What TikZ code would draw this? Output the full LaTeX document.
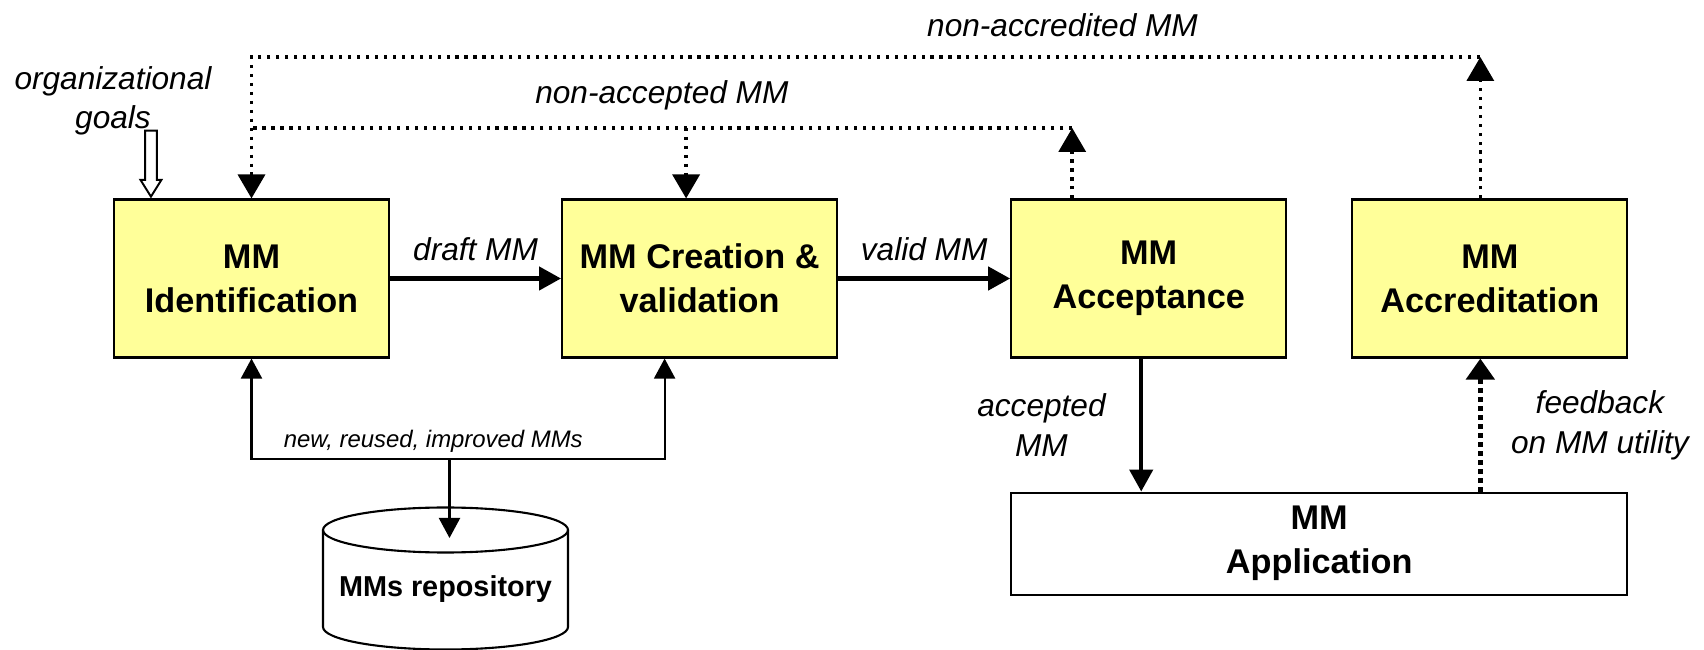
\documentclass[tikz,border=0pt]{standalone}
\usepackage{fontspec}
\setmainfont{Liberation Sans}
\usetikzlibrary{arrows.meta,positioning,calc,shapes.arrows}
\definecolor{BoxYellow}{RGB}{255,255,153}
\tikzset{
  mmbox/.style={draw=black,line width=1.2pt,fill=BoxYellow,
    minimum width=5.5cm,minimum height=3.16cm,align=center,
    font=\fontsize{19.5}{25}\selectfont\bfseries},
  appbox/.style={draw=black,line width=1.2pt,fill=white,
    minimum width=12.32cm,minimum height=2.04cm,align=center,
    font=\fontsize{19.5}{25}\selectfont\bfseries},
  repotext/.style={font=\fontsize{16.4}{20}\selectfont\bfseries},
  repoline/.style={draw=black,line width=1.2pt},
  mainarrow/.style={-{Triangle[length=4.4mm,width=4.6mm]},line width=2.5pt},
  thinarrow/.style={line width=1.2pt,-{Triangle[length=4mm,width=4.2mm]}},
  thinboth/.style={line width=1.2pt,
    {Triangle[length=4mm,width=4.2mm]}-{Triangle[length=4mm,width=4.2mm]}},
  dotline/.style={line width=2pt,dash pattern=on 1.8pt off 3.3pt},
  dotarrow/.style={dotline,-{Triangle[length=4.8mm,width=5.4mm]}},
  feedarrow/.style={line width=2.8pt,dash pattern=on 2.8pt off 2.3pt,
    -{Triangle[length=4.2mm,width=5.6mm]}},
  flowlabel/.style={font=\fontsize{18}{22.5}\selectfont\itshape,align=center},
  smalllabel/.style={font=\fontsize{13.6}{16}\selectfont\itshape},
  goalarrow/.style={draw,line width=1.1pt,fill=white,single arrow,
    shape border rotate=270,inner sep=2.8pt,single arrow head extend=2.6pt,
    single arrow tip angle=64,minimum height=1.32cm},
}
\begin{document}
\begin{tikzpicture}[node distance=3.44cm]
  \useasboundingbox (0,0) rectangle (34.08,-13);
  \node[mmbox] (ident) at (5.03,-5.57) {MM\\Identification};
  \node[mmbox,right=3.42cm of ident] (creat) {MM Creation \&\\validation};
  \node[mmbox,right=3.44cm of creat] (accept) {MM\\Acceptance};
  \node[mmbox,right=1.28cm of accept] (accred) {MM\\Accreditation};
  \node[appbox,below=2.66cm of accept.south west,anchor=north west] (appl)
    {MM\\Application};
  \node[repotext] (repo) at (8.91,-11.78) {MMs repository};
  \node[flowlabel] (goals) at (2.26,-2.02) {organizational\\goals};
  \node[goalarrow,anchor=tip] (goalarr) at ($(ident.north west)+(0.76,0)$) {};

  \draw[repoline] ($(repo.center)+(0,1.18)$) ellipse [x radius=2.45cm,y radius=0.45cm];
  \draw[repoline] ($(repo.center)+(-2.45,1.18)$) -- ++(0,-1.94)
    arc[start angle=180,end angle=360,x radius=2.45cm,y radius=0.45cm] -- ++(0,1.94);

  \coordinate (topline) at (0,-1.14);
  \coordinate (lowline) at (0,-2.56);
  \coordinate (bus) at (0,-9.18);
  \coordinate (accredup) at ($(accred.north)+(-0.19,0)$);
  \coordinate (acceptup) at ($(accept.north)+(-1.53,0)$);
  \coordinate (creatdown) at ($(creat.north)+(-0.27,0)$);
  \coordinate (acceptdown) at ($(accept.south)+(-0.15,0)$);
  \coordinate (creatup) at ($(creat.south)+(-0.7,0)$);
  \coordinate (repoin) at ($(repo.center)+(0.08,1.02)$);

  \draw[mainarrow] (ident.east) -- node[flowlabel,above=0.2cm] {draft MM}
    (creat.west);
  \draw[mainarrow] (creat.east) -- node[flowlabel,above=0.2cm] {valid MM}
    (accept.west);
  \draw[mainarrow] (acceptdown) -- node[flowlabel,left=0.55cm] {accepted\\MM}
    (acceptdown |- appl.north);
  \draw[feedarrow] (accredup |- appl.north) -- node[flowlabel,right=0.45cm]
    {feedback\\on MM utility} (accredup |- accred.south);

  \draw[dotarrow] (accredup) -- (accredup |- topline);
  \draw[dotarrow] (accredup |- topline) -- node[flowlabel,above=0.25cm,pos=0.34]
    {non-accredited MM} (ident.north |- topline) -- (ident.north);
  \draw[dotarrow] (acceptup) -- (acceptup |- lowline);
  \draw[dotline] (acceptup |- lowline) -- node[flowlabel,above=0.2cm]
    {non-accepted MM} (ident.north |- lowline);
  \draw[dotarrow] (creatdown |- lowline) -- (creatdown);

  \draw[thinboth] (ident.south) -- (ident.south |- bus) -| node[smalllabel,above,pos=0.22]
    {new, reused, improved MMs} (creatup);
  \draw[thinarrow] (repoin |- bus) -- (repoin);
\end{tikzpicture}
\end{document}
